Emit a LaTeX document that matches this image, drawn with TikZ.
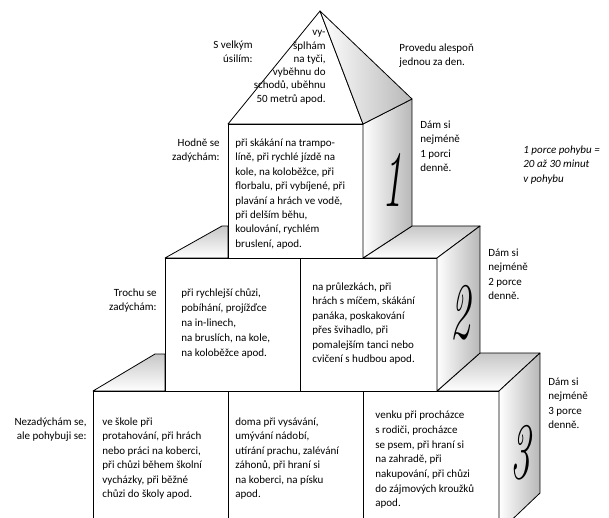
\documentclass[tikz,border=0pt]{standalone}
\usepackage{fontspec}
\setmainfont{Carlito}
\newfontfamily\numfont{Latin Modern Roman}
\begin{document}
\begin{tikzpicture}[x=1pt,y=-1pt, line width=0.8pt, line join=round,
  txt/.style={inner sep=0pt, align=left, font=\fontsize{11}{14.4}\selectfont},
  rtxt/.style={inner sep=0pt, align=right, font=\fontsize{11}{14.4}\selectfont},
  sideface/.style={draw, left color=white, right color=black!28},
  topface/.style={draw, top color=black!22, bottom color=white},
  plainface/.style={draw, fill=white},
  num/.style={inner sep=0pt, font=\numfont\itshape\fontsize{80}{80}\selectfont, xscale=0.5}]
\useasboundingbox (0,0) rectangle (609,518);
\clip (0,0) rectangle (609,518);
% coordinates
\coordinate (apex) at (320,11);
\coordinate (a1) at (228,124);
\coordinate (a2) at (363,124);
\coordinate (a3) at (412,99);
\coordinate (b1) at (228,258);
\coordinate (b2) at (363,258);
\coordinate (b3) at (412,226);
% tier 3
\draw[topface] (93,391) -- (155,354) -- (165,354) -- (165,391) -- cycle;
\draw[topface] (437,391) -- (480,353) -- (540,353) -- (499,391) -- cycle;
\draw[plainface] (93,391) rectangle (499,540);
\draw (228,391) -- (228,540);
\draw (363,391) -- (363,540);
\draw[sideface] (499,391) -- (540,353) -- (540,493) -- (499,532) -- cycle;
% tier 2
\draw[topface] (165,258) -- (222,226) -- (228,226) -- (228,258) -- cycle;
\draw[topface] (b2) -- (b3) -- (480,226) -- (437,258) -- cycle;
\draw[plainface] (165,258) rectangle (437,391);
\draw (300,258) -- (300,391);
\draw[sideface] (437,258) -- (480,226) -- (480,353) -- (437,391) -- cycle;
% tier 1
\draw[plainface] (a1) rectangle (b2);
\draw[sideface] (a2) -- (a3) -- (b3) -- (b2) -- cycle;
% pyramid
\draw[plainface] (apex) -- (a1) -- (a2) -- cycle;
\draw[sideface] (apex) -- (a2) -- (a3) -- cycle;
% numbers
\node[num] (n1) at (392,180) {1};
\node[num] (n2) at (460,313) {2};
\node[num] (n3) at (520,453) {3};
% texts
\node[rtxt, anchor=north east] (sv) at (253,38) {\strut S velkým\\úsilím:};
\node[txt, anchor=north west] (prov) at (399,41) {\strut Provedu alespoň\\jednou za den.};
\node[inner sep=0pt, align=right, font=\fontsize{11}{13.3}\selectfont, anchor=north east] (pyr) at (326,26) {\strut vy-\\šplhám\\na tyči,\\vyběhnu do\\schodů, uběhnu\\50 metrů apod.};
\node[rtxt, anchor=north east] (hodne) at (220,136) {\strut Hodně se\\zadýchám:};
\node[txt, anchor=north west] (t1) at (235,136) {\strut při skákání na trampo-\\líně, při rychlé jízdě na\\kole, na koloběžce, při\\florbalu, při vybíjené, při\\plavání a hrách ve vodě,\\při delším běhu,\\koulování, rychlém\\bruslení, apod.};
\node[txt, anchor=north west] (dam1) at (420,118) {\strut Dám si\\nejméně\\1 porci\\denně.};
\node[txt, anchor=north west, font=\fontsize{11}{14.4}\selectfont\itshape] (porce) at (523,143) {\strut 1 porce pohybu =\\20 až 30 minut\\v pohybu};
\node[rtxt, anchor=north east] (trochu) at (157,286) {\strut Trochu se\\zadýchám:};
\node[txt, anchor=north west, font=\fontsize{11}{14.9}\selectfont] (t2a) at (181,286) {\strut při rychlejší chůzi,\\pobíhání, projížďce\\na in-linech,\\na bruslích, na kole,\\na koloběžce apod.};
\node[txt, anchor=north west] (t2b) at (312,280) {\strut na průlezkách, při\\hrách s míčem, skákání\\panáka, poskakování\\přes švihadlo, při\\pomalejším tanci nebo\\cvičení s hudbou apod.};
\node[txt, anchor=north west] (dam2) at (488,246) {\strut Dám si\\nejméně\\2 porce\\denně.};
\node[rtxt, anchor=north east] (nezad) at (87,415) {\strut Nezadýchám se,\\ale pohybuji se:};
\node[txt, anchor=north west] (t3a) at (102,415) {\strut ve škole při\\protahování, při hrách\\nebo práci na koberci,\\při chůzi během školní\\vycházky, při běžné\\chůzi do školy apod.};
\node[txt, anchor=north west] (t3b) at (235,415) {\strut doma při vysávání,\\umývání nádobí,\\utírání prachu, zalévání\\záhonů, při hraní si\\na koberci, na písku\\apod.};
\node[txt, anchor=north west, font=\fontsize{11}{14.7}\selectfont] (t3c) at (375,408) {\strut venku při procházce\\s rodiči, procházce\\se psem, při hraní si\\na zahradě, při\\nakupování, při chůzi\\do zájmových kroužků\\apod.};
\node[txt, anchor=north west] (dam3) at (548,375) {\strut Dám si\\nejméně\\3 porce\\denně.};
\end{tikzpicture}
\end{document}
